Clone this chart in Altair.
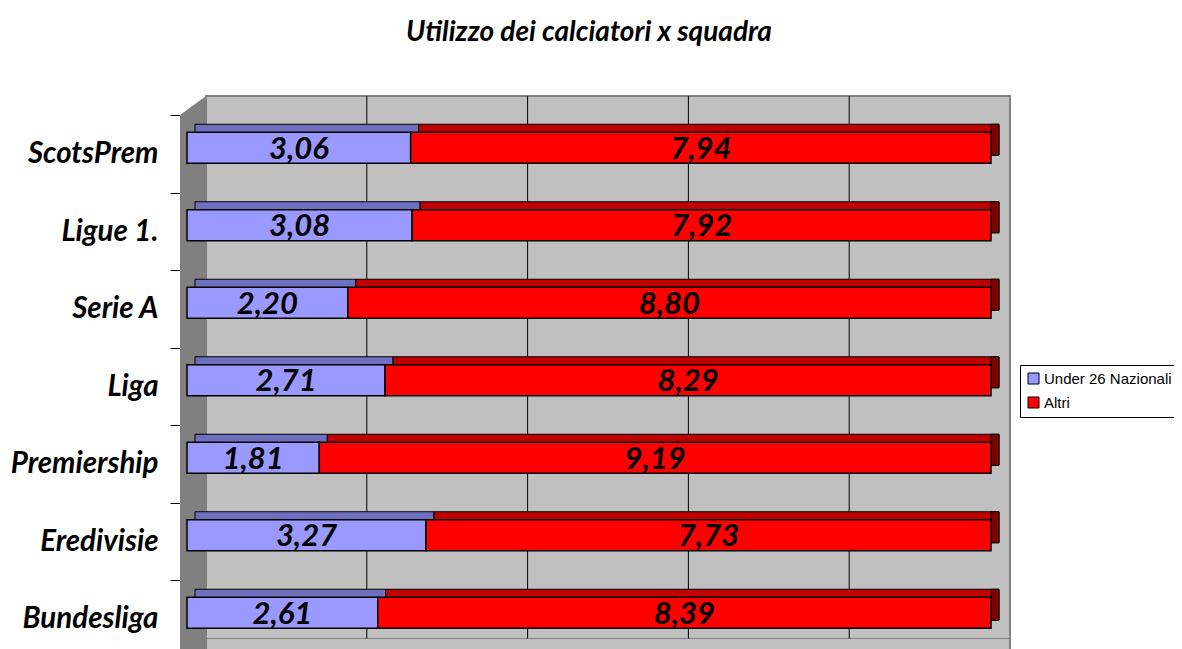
import altair as alt
import pandas as pd

leagues = ["ScotsPrem", "Ligue 1.", "Serie A", "Liga", "Premiership", "Eredivisie", "Bundesliga"]
under26 = [3.06, 3.08, 2.20, 2.71, 1.81, 3.27, 2.61]
altri = [7.94, 7.92, 8.80, 8.29, 9.19, 7.73, 8.39]
series_names = ["Under 26 Nazionali", "Altri"]
series_colors = ["#9999FF", "#FF0000"]
top_colors = ["#6F6FBF", "#C00000"]
side_color = "#800000"
grid_values = [2.2, 4.4, 6.6, 8.8]
x_max = 11

rows = []
for lg, u, a in zip(leagues, under26, altri):
    for s, v, start in [(series_names[0], u, 0.0), (series_names[1], a, u)]:
        rows.append({
            "league": lg, "series": s, "value": v,
            "start": start, "end": start + v, "mid": start + v / 2,
            "label": f"{v:.2f}".replace(".", ","),
        })
df = pd.DataFrame(rows)
grid_df = pd.DataFrame({"g": grid_values})
one = pd.DataFrame({"k": [0]})

PLOT_W = 804
BAND_RANGE = 542.5
BAR = 31
DEPTH = 19     # wall depth offset
BD = 8         # bar depth offset
BY = -6        # bar vertical shift

xscale = alt.Scale(domain=[0, x_max], nice=False, zero=True)
yaxis = alt.Axis(
    title=None, domainColor="black", domainWidth=1, tickColor="black", tickSize=10,
    tickBand="extent", offset=7, labelFont="Lato", labelFontSize=29.5,
    labelFontWeight="bold", labelFontStyle="italic", labelColor="black",
    labelPadding=12, grid=False,
)
yenc = alt.Y("league:N", sort=leagues,
             scale=alt.Scale(domain=leagues, range=[0, BAND_RANGE], paddingInner=0, paddingOuter=0),
             axis=yaxis)

base = alt.Chart(df)

back_wall = alt.Chart(one).mark_rect(
    color="#C0C0C0", stroke="#808080", strokeWidth=2, xOffset=DEPTH, x2Offset=DEPTH
).encode(
    x=alt.X(datum=0, type="quantitative", scale=xscale, axis=None),
    x2=alt.X2(datum=x_max),
    y=alt.value(-DEPTH), y2=alt.value(BAND_RANGE + 20),
)
floor_line = alt.Chart(one).mark_rule(color="#808080", strokeWidth=1, xOffset=DEPTH, x2Offset=DEPTH).encode(
    x=alt.X(datum=0, type="quantitative", scale=xscale, axis=None),
    x2=alt.X2(datum=x_max),
    y=alt.value(BAND_RANGE - DEPTH),
)
grid = alt.Chart(grid_df).mark_rule(color="black", strokeWidth=1, xOffset=DEPTH).encode(
    x=alt.X("g:Q", scale=xscale, axis=None),
    y=alt.value(-DEPTH), y2=alt.value(BAND_RANGE - DEPTH),
)
side_wall = alt.Chart(one).mark_rect(color="#808080", xOffset=-7, x2Offset=DEPTH).encode(
    x=alt.X(datum=0, type="quantitative", scale=xscale, axis=None),
    x2=alt.X2(datum=0),
    y=alt.value(0), y2=alt.value(BAND_RANGE + 20),
)
side_top = alt.Chart(one).mark_point(
    shape="M -1 0.731 L 1 -0.731 L 1 0.731 Z", size=676, filled=True,
    color="#808080", opacity=1, xOffset=6,
).encode(
    x=alt.X(datum=0, type="quantitative", scale=xscale, axis=None),
    y=alt.value(-9.5),
)

shadow_layers = []
for s, c in zip(series_names, top_colors):
    shadow_layers.append(
        base.transform_filter(alt.datum.series == s).mark_bar(
            size=BAR, xOffset=BD, x2Offset=BD, yOffset=BY - BD, y2Offset=BY - BD,
            color=c, stroke="black", strokeWidth=1,
        ).encode(
            x=alt.X("start:Q", scale=xscale, axis=None), x2="end:Q", y=yenc,
        )
    )
right_face = base.transform_filter(alt.datum.series == series_names[-1]).mark_bar(
    size=BAR, x2Offset=BD, yOffset=BY - BD, y2Offset=BY - BD,
    color=side_color, stroke="black", strokeWidth=1,
).encode(x=alt.X("end:Q", scale=xscale, axis=None), x2="end:Q", y=yenc)

front = base.mark_bar(size=BAR, yOffset=BY, y2Offset=BY, stroke="black", strokeWidth=1.5).encode(
    x=alt.X("start:Q", scale=xscale, axis=None), x2="end:Q", y=yenc,
    color=alt.Color("series:N", scale=alt.Scale(domain=series_names, range=series_colors),
                    legend=alt.Legend(
                        title=None, orient="none", legendX=833, legendY=250,
                        fillColor="white", strokeColor="black", padding=6,
                        symbolType="square", symbolSize=121, symbolStrokeColor="black",
                        symbolStrokeWidth=1, symbolOpacity=1,
                        labelFont="Liberation Sans", labelFontSize=15, labelColor="black",
                        rowPadding=8, labelLimit=400, labelOffset=3,
                    )),
)
labels = base.mark_text(
    font="Lato", fontSize=31, fontWeight="bold", fontStyle="italic", color="black",
    baseline="middle", align="center", dy=BY + 2,
).encode(x=alt.X("mid:Q", scale=xscale, axis=None), y=yenc, text="label:N")

chart = alt.layer(
    back_wall, floor_line, grid, side_wall, side_top, *shadow_layers, right_face, front, labels
).properties(
    width=PLOT_W, height=534,
    title=alt.TitleParams("Utilizzo dei calciatori x squadra", font="Lato", fontSize=28,
                          fontWeight="bold", fontStyle="italic", color="black",
                          anchor="middle", offset=48),
    autosize=alt.AutoSizeParams(type="none"),
    padding={"left": 179, "top": 107, "right": 1166 - 179 - PLOT_W, "bottom": 0},
).configure_view(stroke=None)

chart.save("out.html", embed_options={"renderer": "svg", "actions": False})
